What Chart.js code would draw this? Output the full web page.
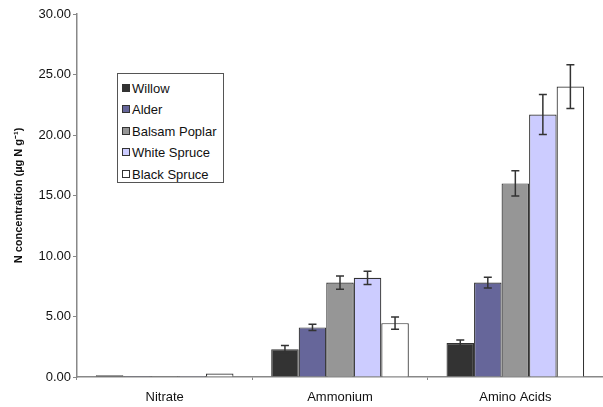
<!DOCTYPE html>
<html lang="en">
<head>
<meta charset="UTF-8">
<title>N concentration</title>
<style>
    body { margin: 0; background: #fff; }
    .wrap { position: relative; width: 603px; height: 407px; }
    #legend {
        position: absolute; left: 117px; top: 73px; width: 107px; height: 110px;
        border: 1px solid #555; background: #fff; font: 13px "Liberation Sans", Arial, sans-serif;
        color: #111; box-sizing: border-box; padding-top: 4px;
    }
    #legend div { height: 21.4px; line-height: 21.4px; padding-left: 4px; white-space: nowrap; }
    #legend span { display: inline-block; width: 6px; height: 6px; border: 1px solid #333; margin-right: 2px; vertical-align: 1px; }
</style>
</head>
<body>
<div class="wrap">
    <canvas id="myChart" width="603" height="407"></canvas>
    <div id="legend"></div>
</div>
<script src="https://cdn.jsdelivr.net/npm/chart.js"></script>
<script>
    // 데이터
    const categories = ['Nitrate', 'Ammonium', 'Amino Acids'];
    const species = ['Willow', 'Alder', 'Balsam Poplar', 'White Spruce', 'Black Spruce'];
    const willow = [0.15, 2.3, 2.8];
    const alder = [0.08, 4.1, 7.8];
    const balsamPoplar = [0.08, 7.8, 16.0];
    const whiteSpruce = [0.08, 8.2, 21.7];
    const blackSpruce = [0.28, 4.45, 24.0];
    const willowErr = [0, 0.3, 0.25];
    const alderErr = [0, 0.25, 0.45];
    const balsamPoplarErr = [0, 0.55, 1.05];
    const whiteSpruceErr = [0, 0.55, 1.65];
    const blackSpruceErr = [0, 0.5, 1.8];
    const yTicks = [0, 5, 10, 15, 20, 25, 30];

    const colors = ['#333333', '#66669a', '#969696', '#ccccff', '#ffffff'];
    const values = [willow, alder, balsamPoplar, whiteSpruce, blackSpruce];
    const errors = [willowErr, alderErr, balsamPoplarErr, whiteSpruceErr, blackSpruceErr];

    // 에러바 플러그인
    const errorBars = {
        id: 'errorBars',
        afterDatasetsDraw(chart) {
            const ctx = chart.ctx;
            const y = chart.scales.y;
            ctx.save();
            ctx.strokeStyle = '#333';
            ctx.lineWidth = 1.5;
            chart.data.datasets.forEach((ds, i) => {
                const meta = chart.getDatasetMeta(i);
                meta.data.forEach((bar, j) => {
                    const e = errors[i][j];
                    if (!e) return;
                    const v = ds.data[j];
                    const top = y.getPixelForValue(v + e);
                    const bot = y.getPixelForValue(v - e);
                    ctx.beginPath();
                    ctx.moveTo(bar.x, top); ctx.lineTo(bar.x, bot);
                    ctx.moveTo(bar.x - 4, top); ctx.lineTo(bar.x + 4, top);
                    ctx.moveTo(bar.x - 4, bot); ctx.lineTo(bar.x + 4, bot);
                    ctx.stroke();
                });
            });
            ctx.restore();
        }
    };

    Chart.defaults.font.family = '"Liberation Sans", Arial, sans-serif';
    Chart.defaults.color = '#111';

    const ctx = document.getElementById('myChart').getContext('2d');
    new Chart(ctx, {
        type: 'bar',
        data: {
            labels: categories,
            datasets: species.map((name, i) => ({
                label: name,
                data: values[i],
                backgroundColor: colors[i],
                borderColor: '#333',
                borderWidth: 1.2,
                barPercentage: 1,
                categoryPercentage: 0.785
            }))
        },
        options: {
            responsive: false,
            animation: false,
            layout: { padding: { top: 14, right: 0, bottom: 0, left: 0 } },
            plugins: { legend: { display: false }, tooltip: { enabled: false } },
            scales: {
                x: {
                    grid: { drawOnChartArea: false, color: '#888', tickLength: 3, offset: true },
                    border: { color: '#888', width: 1.5 },
                    ticks: { font: { size: 13 }, padding: 10 },
                    afterFit(s) { s.height = 30; }
                },
                y: {
                    min: 0, max: 30,
                    afterBuildTicks(s) { s.ticks = yTicks.map(v => ({ value: v })); },
                    grid: { drawOnChartArea: false, color: '#888', tickLength: 4 },
                    border: { color: '#888', width: 1.5 },
                    ticks: { font: { size: 13 }, padding: 2, callback: v => v.toFixed(2) },
                    title: { display: true, text: 'N concentration (µg N g⁻¹)', font: { size: 11, weight: 'bold' }, padding: { top: 12, bottom: 4 } },
                    afterFit(s) { s.width = 77; }
                }
            }
        },
        plugins: [errorBars]
    });

    // 범례
    const legend = document.getElementById('legend');
    species.forEach((name, i) => {
        const row = document.createElement('div');
        row.innerHTML = `<span style="background:${colors[i]}"></span>${name}`;
        legend.appendChild(row);
    });
</script>
</body>
</html>
